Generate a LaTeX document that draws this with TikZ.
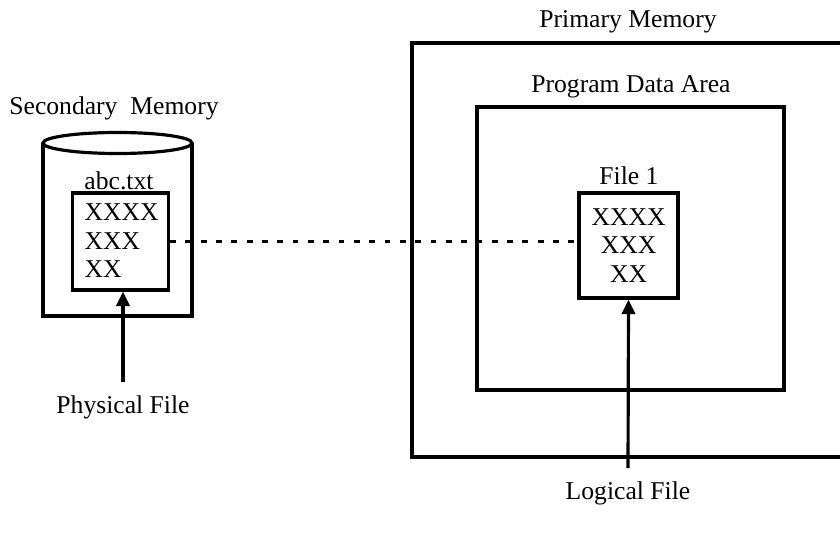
\documentclass[tikz,border=0pt]{standalone}
\usepackage{fontspec}
\setmainfont{Liberation Serif}
\usetikzlibrary{positioning,arrows.meta}

\newcommand{\px}{0.0133cm}

\begin{document}
\begin{tikzpicture}[x=0.0133cm, y=-0.0133cm,
    box/.style={draw, line width=1.2pt, inner sep=0pt},
    lbl/.style={font=\fontsize{9.7}{11}\selectfont, inner sep=1pt},
    rows/.style={font=\fontsize{9.7}{10.8}\selectfont},
    arr/.style={-{Triangle[length=5.5pt,width=5pt]}, line width=1.2pt},
    link/.style={line width=0.9pt, dash pattern=on 2.2pt off 3.6pt}]
  \useasboundingbox (0,0) rectangle (840,534);

  % secondary memory (disk)
  \draw[line width=1.2pt] (43,143) -- (43,316) -- (192,316) -- (192,143);
  \draw[line width=1.2pt, fill=white] (117.5,143) ellipse [x radius=74.5, y radius=10.5];
  \node[lbl] (seclbl) at (114,108) {Secondary\ \ Memory};
  \node[lbl] (abclbl) at (119,181) {abc.txt};
  \node[box, minimum width=96*\px, minimum height=97*\px] (abcbox) at (120.5,241.5) {};
  \node[rows, align=left, anchor=west, inner sep=0pt] (abctxt) at (84,241) {XXXX\\XXX\\XX};

  % primary memory
  \node[box, minimum width=430*\px, minimum height=414*\px] (prim) at (627,250) {};
  \node[lbl] (primlbl) at (628,22) {Primary Memory};
  \node[box, minimum width=307*\px, minimum height=283*\px] (prog) at (630.5,248.5) {};
  \node[lbl] (proglbl) at (631,87) {Program Data Area};
  \node[box, minimum width=99*\px, minimum height=105*\px, rows, align=center]
    (file1) at (628.5,245.5) {XXXX\\XXX\\XX};
  \node[lbl] (file1lbl) at (629,176) {File 1};

  % labels below
  \node[lbl] (physlbl) at (123,407) {Physical File};
  \node[lbl] (loglbl) at (628,493) {Logical File};

  % connectors
  \draw[link] (abcbox.east) -- (abcbox.east -| file1.west);
  \draw[arr] ([yshift=10*\px]physlbl.north) -- (abcbox.south -| physlbl.north);
  \draw[arr] ([yshift=10*\px]loglbl.north) -- (file1.south);
\end{tikzpicture}
\end{document}
